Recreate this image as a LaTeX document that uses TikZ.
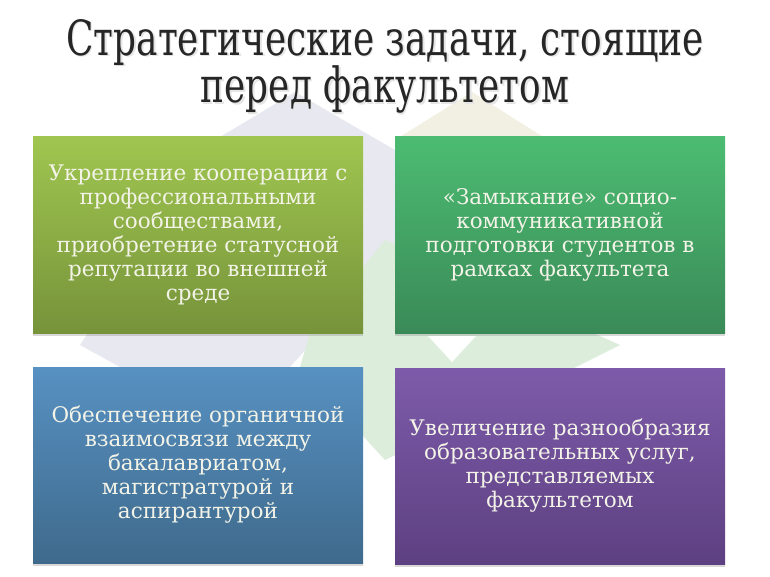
\documentclass[tikz,border=0pt]{standalone}
\usepackage{fontspec}
\setmainfont{DejaVu Serif}
\newfontfamily\titlefont[FakeStretch=0.74]{DejaVu Serif}
\usetikzlibrary{positioning, shadows}

\definecolor{oliveTop}{HTML}{A0C650}
\definecolor{oliveBot}{HTML}{76933A}
\definecolor{greenTop}{HTML}{4CBC72}
\definecolor{greenBot}{HTML}{3A8A57}
\definecolor{blueTop}{HTML}{5791C2}
\definecolor{blueBot}{HTML}{3F6A8C}
\definecolor{violetTop}{HTML}{7D5BAA}
\definecolor{violetBot}{HTML}{5D4081}
\definecolor{textcream}{HTML}{F3F3E8}
\definecolor{logoLav}{HTML}{E8E8F0}
\definecolor{logoYel}{HTML}{F2F0E2}
\definecolor{logoGrn}{HTML}{DCEDDC}

\begin{document}
\begin{tikzpicture}[x=1pt,y=-1pt,
	task/.style={minimum width=330pt, minimum height=196pt, align=center,
		text=textcream, font=\fontsize{21.5}{24}\selectfont,
		drop shadow={shadow xshift=0pt, shadow yshift=-2.5pt, opacity=0.3}},
	heading/.style={anchor=base, align=center, font=\titlefont\fontsize{48.5}{43}\selectfont},
	]
	\useasboundingbox[fill=white] (0,0) rectangle (770,577);
	% faint logo behind the boxes
	\fill[logoLav] (295,92) -- (215,140) -- (80,345) -- (120,367) -- (290,367) -- (395,250) -- (395,150) -- cycle;
	\fill[logoYel] (472,92) -- (395,140) -- (548,140) -- cycle;
	\fill[logoGrn] (385,240) -- (620,345) -- (560,375) -- (385,460) -- (300,367) -- (310,333) -- cycle;
	\fill[white] (428,336) -- (476,336) -- (452,362) -- cycle;

	% title
	\node[heading, gray!20] at (386.5,104.5)
		{Стратегические задачи, стоящие\\перед факультетом};
	\node (title) [heading, black!85] at (385,103)
		{Стратегические задачи, стоящие\\перед факультетом};

	% four tasks
	\node (coop) [task, top color=oliveTop, bottom color=oliveBot] at (198,235)
		{Укрепление кооперации с\\профессиональными\\сообществами,\\приобретение статусной\\репутации во внешней\\среде};
	\node (closing) [task, top color=greenTop, bottom color=greenBot] at (560,235)
		{«Замыкание» социо-\\коммуникативной\\подготовки студентов в\\рамках факультета};
	\node (levels) [task, top color=blueTop, bottom color=blueBot] at (198,465)
		{Обеспечение органичной\\взаимосвязи между\\бакалавриатом,\\магистратурой и\\аспирантурой};
	\node (variety) [task, top color=violetTop, bottom color=violetBot] at (560,466)
		{Увеличение разнообразия\\образовательных услуг,\\представляемых\\факультетом};
\end{tikzpicture}
\end{document}
